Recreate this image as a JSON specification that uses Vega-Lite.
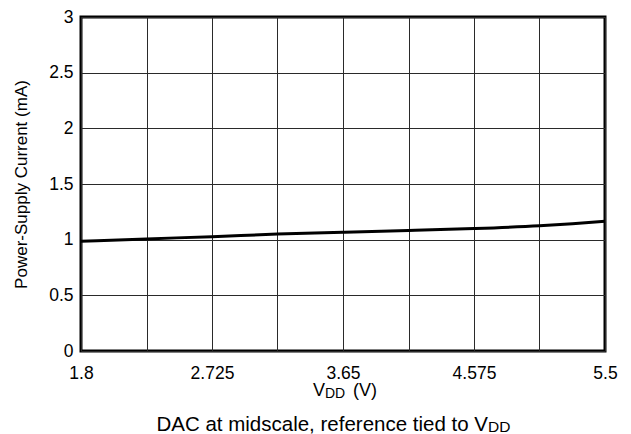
{
  "$schema": "https://vega.github.io/schema/vega-lite/v6.json",
  "autosize": {"type": "none"},
  "width": 524,
  "height": 334,
  "padding": {"left": 81, "top": 17, "right": 26, "bottom": 83},
  "background": "white",
  "config": {
    "view": {"stroke": "black", "strokeWidth": 3},
    "font": "Liberation Sans",
    "axis": {
      "domain": false,
      "ticks": false,
      "grid": true,
      "gridColor": "#2a2a2a",
      "gridWidth": 1,
      "gridOpacity": 1,
      "labelFont": "Liberation Sans",
      "labelFontSize": 17.5,
      "labelColor": "black",
      "titleFont": "Liberation Sans",
      "titleFontWeight": "normal",
      "titleColor": "black"
    },
    "text": {"font": "Liberation Sans", "color": "black"}
  },
  "layer": [
    {
      "data": {
        "values": [
          {"vdd": 1.8, "current": 0.985},
          {"vdd": 2.2625, "current": 1.007},
          {"vdd": 2.725, "current": 1.027},
          {"vdd": 3.1875, "current": 1.05},
          {"vdd": 3.65, "current": 1.066},
          {"vdd": 4.1125, "current": 1.082},
          {"vdd": 4.575, "current": 1.1},
          {"vdd": 5.0375, "current": 1.125},
          {"vdd": 5.27, "current": 1.143},
          {"vdd": 5.5, "current": 1.166}
        ]
      },
      "mark": {"type": "line", "color": "black", "strokeWidth": 3, "interpolate": "monotone"},
      "encoding": {
        "x": {
          "field": "vdd",
          "type": "quantitative",
          "scale": {"domain": [1.8, 5.5], "nice": false, "zero": false},
          "axis": {
            "title": null,
            "values": [1.8, 2.2625, 2.725, 3.1875, 3.65, 4.1125, 4.575, 5.0375, 5.5],
            "format": ".4~f",
            "labelExpr": "round((datum.value - 1.8) / 0.4625) % 2 == 0 ? datum.label : ''",
            "labelPadding": 13,
            "labelFlush": false,
            "labelOverlap": false
          }
        },
        "y": {
          "field": "current",
          "type": "quantitative",
          "scale": {"domain": [0, 3], "nice": false},
          "axis": {
            "title": "Power-Supply Current (mA)",
            "titleFontSize": 17,
            "titlePadding": 18,
            "values": [0, 0.5, 1, 1.5, 2, 2.5, 3],
            "format": "~g",
            "labelPadding": 8
          }
        }
      }
    },
    {
      "data": {"values": [{"t": "V"}]},
      "mark": {"type": "text", "align": "right", "baseline": "alphabetic", "fontSize": 18},
      "encoding": {
        "x": {"datum": 3.523, "type": "quantitative"},
        "y": {"datum": -0.404, "type": "quantitative"},
        "text": {"field": "t"}
      }
    },
    {
      "data": {"values": [{"t": "DD"}]},
      "mark": {"type": "text", "align": "left", "baseline": "alphabetic", "fontSize": 14},
      "encoding": {
        "x": {"datum": 3.523, "type": "quantitative"},
        "y": {"datum": -0.418, "type": "quantitative"},
        "text": {"field": "t"}
      }
    },
    {
      "data": {"values": [{"t": "(V)"}]},
      "mark": {"type": "text", "align": "left", "baseline": "alphabetic", "fontSize": 18},
      "encoding": {
        "x": {"datum": 3.72, "type": "quantitative"},
        "y": {"datum": -0.404, "type": "quantitative"},
        "text": {"field": "t"}
      }
    },
    {
      "data": {"values": [{"t": "DAC at midscale, reference tied to V"}]},
      "mark": {"type": "text", "align": "right", "baseline": "alphabetic", "fontSize": 20.5},
      "encoding": {
        "x": {"datum": 4.674, "type": "quantitative"},
        "y": {"datum": -0.7186, "type": "quantitative"},
        "text": {"field": "t"}
      }
    },
    {
      "data": {"values": [{"t": "DD"}]},
      "mark": {"type": "text", "align": "left", "baseline": "alphabetic", "fontSize": 15.5},
      "encoding": {
        "x": {"datum": 4.674, "type": "quantitative"},
        "y": {"datum": -0.732, "type": "quantitative"},
        "text": {"field": "t"}
      }
    }
  ]
}
